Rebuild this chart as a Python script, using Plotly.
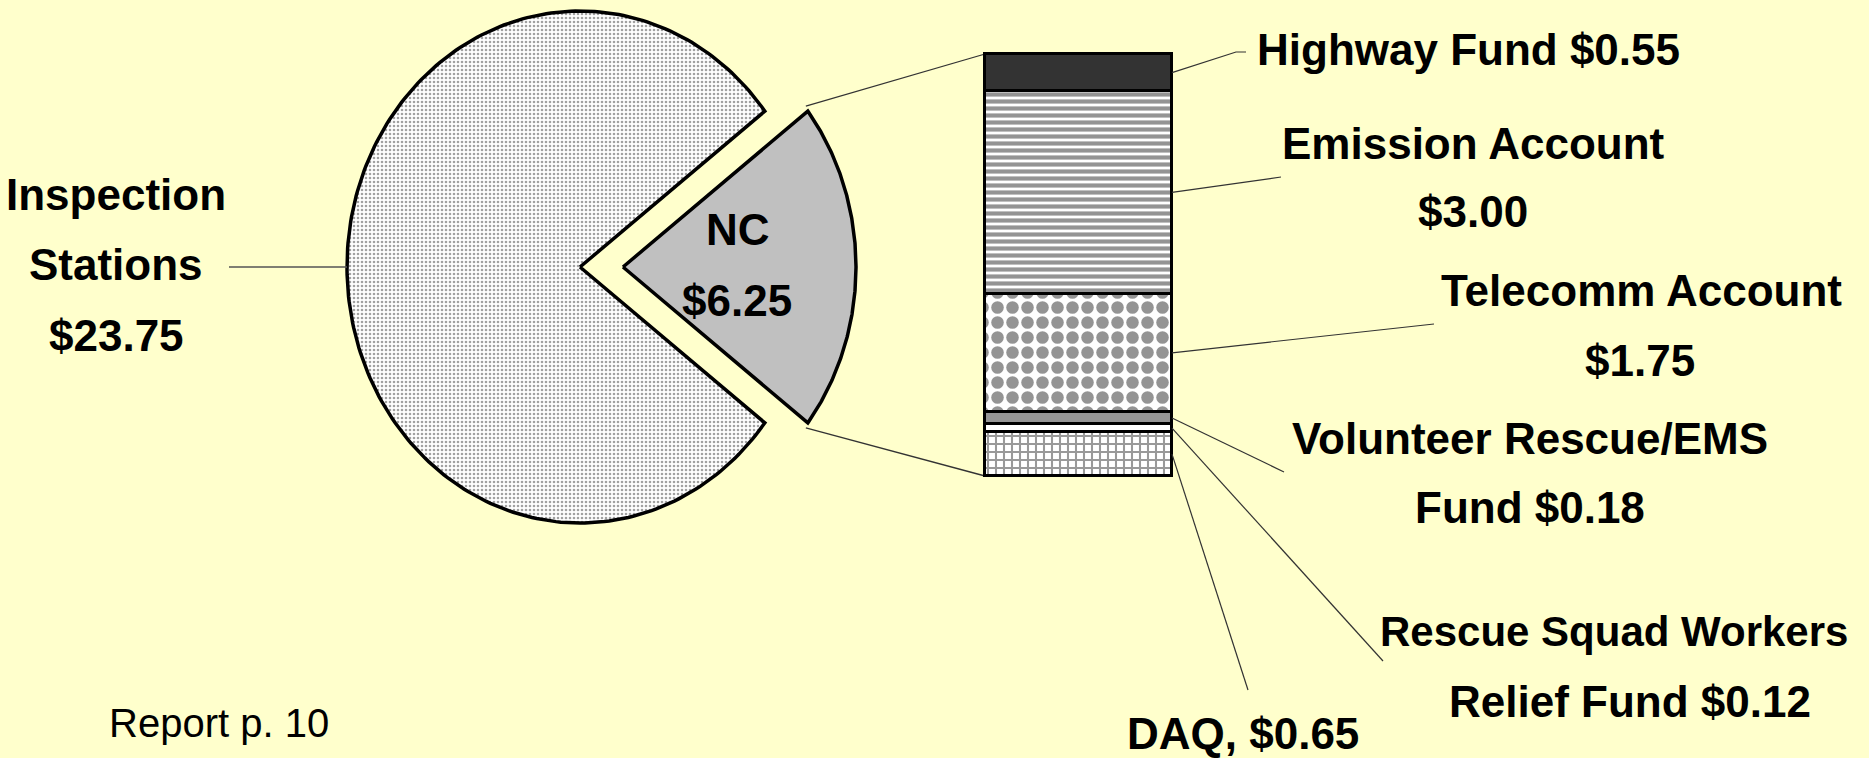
import numpy as np
import plotly.graph_objects as go

# ---------------- data ----------------
pie_labels = ["Inspection Stations", "NC"]
pie_values = [23.75, 6.25]

# NC breakdown, listed bottom -> top of the stacked bar
bar_labels = ["DAQ", "Rescue Squad Workers Relief Fund", "Volunteer Rescue/EMS Fund",
              "Telecomm Account", "Emission Account", "Highway Fund"]
bar_values = [0.65, 0.12, 0.18, 1.75, 3.00, 0.55]

# ---------------- layout constants (pixels) ----------------
W, H = 1869, 758
BG = "#FFFFCC"
FONT = "Liberation Sans"
PCX, PCY, RX, RY = 580, 267, 233, 256      # pie centre and radii
EXPLODE = 43
BAR_CX, BAR_W = 1078.5, 187
BAR_TOP_PX, BAR_BOT_PX = 54, 476
total_nc = sum(bar_values)
pxper = (BAR_BOT_PX - BAR_TOP_PX) / total_nc
y2_range = [-(H - BAR_BOT_PX) / pxper, BAR_BOT_PX / pxper]


def py_to_y2(py):
    return (BAR_BOT_PX - py) / pxper


fig = go.Figure()

# ---------------- pie (drawn as filled slices) ----------------
tot = sum(pie_values)
nc_span = 360 * pie_values[1] / tot
a0, a1 = -nc_span / 2, nc_span / 2


def wedge(start, end, dx=0):
    a = np.radians(np.linspace(start, end, 240))
    xs = np.concatenate([[PCX + dx], PCX + dx + RX * np.cos(a), [PCX + dx]])
    ys = np.concatenate([[PCY], PCY - RY * np.sin(a), [PCY]])
    return xs, ys


xs, ys = wedge(a1, 360 + a0)
fig.add_trace(go.Scatter(
    x=xs, y=ys, mode="lines", fill="toself",
    fillcolor="white",
    fillpattern=dict(shape=".", fgcolor="#444444", bgcolor="white", size=4, solidity=0.33),
    line=dict(color="black", width=3.5), hoverinfo="skip", showlegend=False))

xs, ys = wedge(a0, a1, EXPLODE)
fig.add_trace(go.Scatter(
    x=xs, y=ys, mode="lines", fill="toself", fillcolor="#C0C0C0",
    line=dict(color="black", width=3.5), hoverinfo="skip", showlegend=False))

# connector lines pie -> bar
tip_top_x = PCX + EXPLODE + RX * np.cos(np.radians(a1))
tip_top_y = PCY - RY * np.sin(np.radians(a1))
tip_bot_y = PCY - RY * np.sin(np.radians(a0))
for ty, by in [(tip_top_y - 5, BAR_TOP_PX), (tip_bot_y + 5, BAR_BOT_PX)]:
    fig.add_trace(go.Scatter(x=[tip_top_x - 2, BAR_CX - BAR_W / 2], y=[ty, by], mode="lines",
                             line=dict(color="#333333", width=1.3), hoverinfo="skip",
                             showlegend=False))

# Inspection leader
fig.add_trace(go.Scatter(x=[229, PCX - RX], y=[PCY, PCY], mode="lines",
                         line=dict(color="#555555", width=1.5), hoverinfo="skip",
                         showlegend=False))

# ---------------- stacked bar ----------------
styles = [
    dict(color="white", pattern=dict(shape="+", fgcolor="#333333", bgcolor="white", size=8, solidity=0.45)),
    dict(color="white"),
    dict(color="#969696"),
    dict(color="white", pattern=dict(shape=".", fgcolor="#2a2a2a", bgcolor="white", size=15, solidity=0.55)),
    dict(color="white", pattern=dict(shape="-", fgcolor="#2a2a2a", bgcolor="white", size=7, solidity=0.6)),
    dict(color="#333333"),
]
for lab, v, st in zip(bar_labels, bar_values, styles):
    fig.add_trace(go.Bar(
        x=[BAR_CX], y=[v], width=[BAR_W], name=lab, yaxis="y2",
        marker=dict(line=dict(color="black", width=3.5), **st),
        hoverinfo="skip", showlegend=False))

# leader lines bar -> labels (bar end at segment midpoint, in $ units)
label_ends_px = [(1248, 690), (1383, 661), (1284, 472), (1434, 324), (1281, 177), (1236, 52)]
cum = np.cumsum([0] + bar_values)
bar_right = BAR_CX + BAR_W / 2
for i, (ex, ey) in enumerate(label_ends_px):
    mid = (cum[i] + cum[i + 1]) / 2
    xs_l = [bar_right, ex]
    ys_l = [mid, py_to_y2(ey)]
    if i == 5:
        xs_l.append(1246)
        ys_l.append(py_to_y2(ey))
    fig.add_trace(go.Scatter(x=xs_l, y=ys_l, yaxis="y2", mode="lines",
                             line=dict(color="#333333", width=1.2), hoverinfo="skip",
                             showlegend=False))

# ---------------- text ----------------
texts = [
    ("Inspection", 116, 194, 44), ("Stations", 116, 264, 44), ("$23.75", 116, 335, 44),
    ("NC", 738, 229, 44), ("$6.25", 737, 300, 44),
    ("Highway Fund $0.55", 1468, 49, 44),
    ("Emission Account", 1473, 143, 44), ("$3.00", 1473, 211, 44),
    ("Telecomm Account", 1641, 290, 44), ("$1.75", 1640, 360, 44),
    ("Volunteer Rescue/EMS", 1530, 438, 44), ("Fund $0.18", 1530, 507, 44),
    ("Rescue Squad Workers", 1614, 631, 42), ("Relief Fund $0.12", 1630, 701, 44),
    ("DAQ, $0.65", 1243, 733, 44),
]
for t, x, y, s in texts:
    fig.add_annotation(x=x, y=y, xref="x", yref="y", text=f"<b>{t}</b>", showarrow=False,
                       xanchor="center", yanchor="middle",
                       font=dict(family=FONT, size=s, color="black"))
fig.add_annotation(x=219, y=723, xref="x", yref="y", text="Report p. 10", showarrow=False,
                   xanchor="center", yanchor="middle",
                   font=dict(family=FONT, size=40, color="black"))

fig.update_layout(
    width=W, height=H, margin=dict(l=0, r=0, t=0, b=0),
    paper_bgcolor=BG, plot_bgcolor=BG, barmode="stack", bargap=0,
    xaxis=dict(range=[0, W], visible=False, fixedrange=True),
    yaxis=dict(range=[H, 0], visible=False, fixedrange=True),
    yaxis2=dict(range=y2_range, visible=False, overlaying="y", fixedrange=True),
    showlegend=False,
)
fig.write_html("out.html", config={"displayModeBar": False},
               post_script="document.body.style.margin='0';document.body.style.overflow='hidden';"
                           "document.body.style.background='" + BG + "';")
